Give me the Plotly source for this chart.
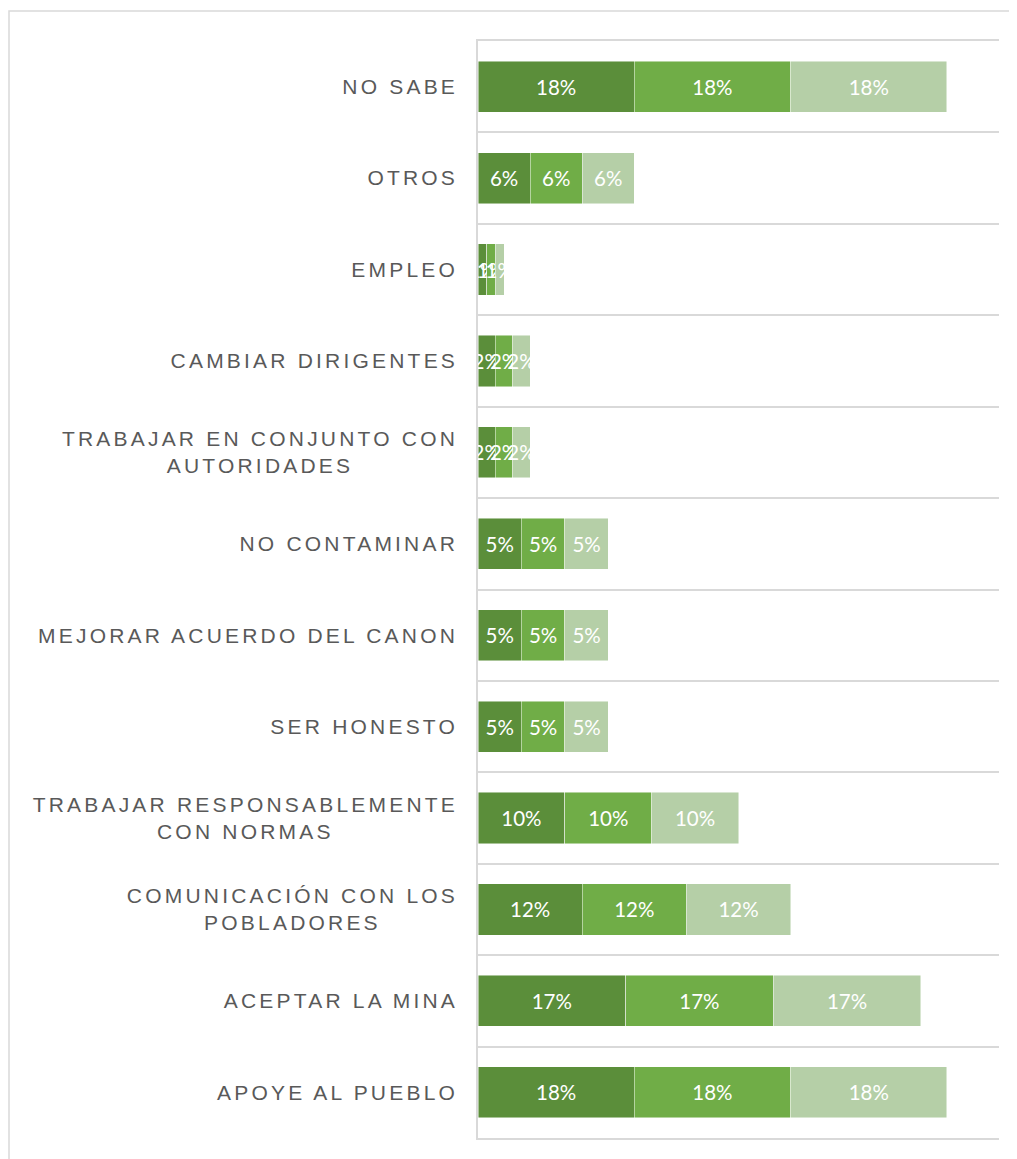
import plotly.graph_objects as go

# Categories listed bottom -> top (as drawn)
categories = [
    "APOYE AL PUEBLO",
    "ACEPTAR LA MINA",
    "COMUNICACIÓN CON LOS POBLADORES",
    "TRABAJAR RESPONSABLEMENTE CON NORMAS",
    "SER HONESTO",
    "MEJORAR ACUERDO DEL CANON",
    "NO CONTAMINAR",
    "TRABAJAR EN CONJUNTO CON AUTORIDADES",
    "CAMBIAR DIRIGENTES",
    "EMPLEO",
    "OTROS",
    "NO SABE",
]
tick_labels = [
    "APOYE AL PUEBLO",
    "ACEPTAR LA MINA",
    "COMUNICACIÓN CON LOS<br>POBLADORES",
    "TRABAJAR RESPONSABLEMENTE<br>CON NORMAS",
    "SER HONESTO",
    "MEJORAR ACUERDO DEL CANON",
    "NO CONTAMINAR",
    "TRABAJAR EN CONJUNTO CON<br>AUTORIDADES",
    "CAMBIAR DIRIGENTES",
    "EMPLEO",
    "OTROS",
    "NO SABE",
]
series1 = [18, 17, 12, 10, 5, 5, 5, 2, 2, 1, 6, 18]
series2 = [18, 17, 12, 10, 5, 5, 5, 2, 2, 1, 6, 18]
series3 = [18, 17, 12, 10, 5, 5, 5, 2, 2, 1, 6, 18]
series_names = ["Serie 1", "Serie 2", "Serie 3"]
colors = ["#5B8E3A", "#70AD47", "#B5CFA7"]

W, H = 1009, 1151
ML, MR, MT, MB = 470, 18, 33, 21

fig = go.Figure()
for name, vals, col in zip(series_names, [series1, series2, series3], colors):
    fig.add_trace(go.Bar(
        y=categories, x=vals, name=name, orientation="h",
        marker=dict(color=col, line=dict(color="rgba(255,255,255,0.6)", width=0.8)),
        text=[f"{v}%" for v in vals],
        textposition="inside", insidetextanchor="middle",
        textangle=0, constraintext="none",
        textfont=dict(family="Lato", size=20.5, color="white"),
        hoverinfo="skip",
    ))

pw = W - ML - MR
ph = H - MT - MB
fig.add_shape(
    type="rect", xref="paper", yref="paper",
    x0=(1 - ML) / pw, x1=(W + 10 - ML) / pw,
    y0=-(MB + 10) / ph, y1=1 + (MT - 3) / ph,
    line=dict(color="#D9D9D9", width=1.5), fillcolor="rgba(0,0,0,0)", layer="below",
)

fig.update_layout(
    width=W, height=H,
    margin=dict(l=ML, r=MR, t=MT, b=MB, pad=0),
    barmode="stack", bargap=0.44,
    showlegend=False,
    plot_bgcolor="white", paper_bgcolor="white",
    xaxis=dict(range=[0, 60], showticklabels=False, showgrid=False,
               zeroline=False, showline=True, mirror=True,
               linecolor="#D9D9D9", linewidth=1.5, ticks="", fixedrange=True),
    yaxis=dict(
        type="category", tickmode="array", tickvals=categories, ticktext=tick_labels,
        tickson="boundaries", ticks="", showgrid=True, gridcolor="#D9D9D9", gridwidth=1.5,
        showline=True, linecolor="#D9D9D9", linewidth=1.5,
        tickfont=dict(family="Liberation Sans", size=21, color="#595959"),
        ticklabelstandoff=14, zeroline=False,
    ),
)

post = """
var gd = document.getElementById('{plot_id}');
function fixLabels(){
  gd.querySelectorAll('.ytick text').forEach(function(t){
    t.style.letterSpacing = '3.2px';
    var lines = t.querySelectorAll('tspan.line');
    if (lines.length > 1) {
      var w = 0;
      lines.forEach(function(l){ w = Math.max(w, l.getComputedTextLength()); });
      var x0 = parseFloat(t.getAttribute('x'));
      lines.forEach(function(l){
        l.setAttribute('text-anchor', 'middle');
        l.setAttribute('x', x0 - w / 2);
      });
    }
  });
}
fixLabels();
"""

fig.write_html("out.html", post_script=post)
